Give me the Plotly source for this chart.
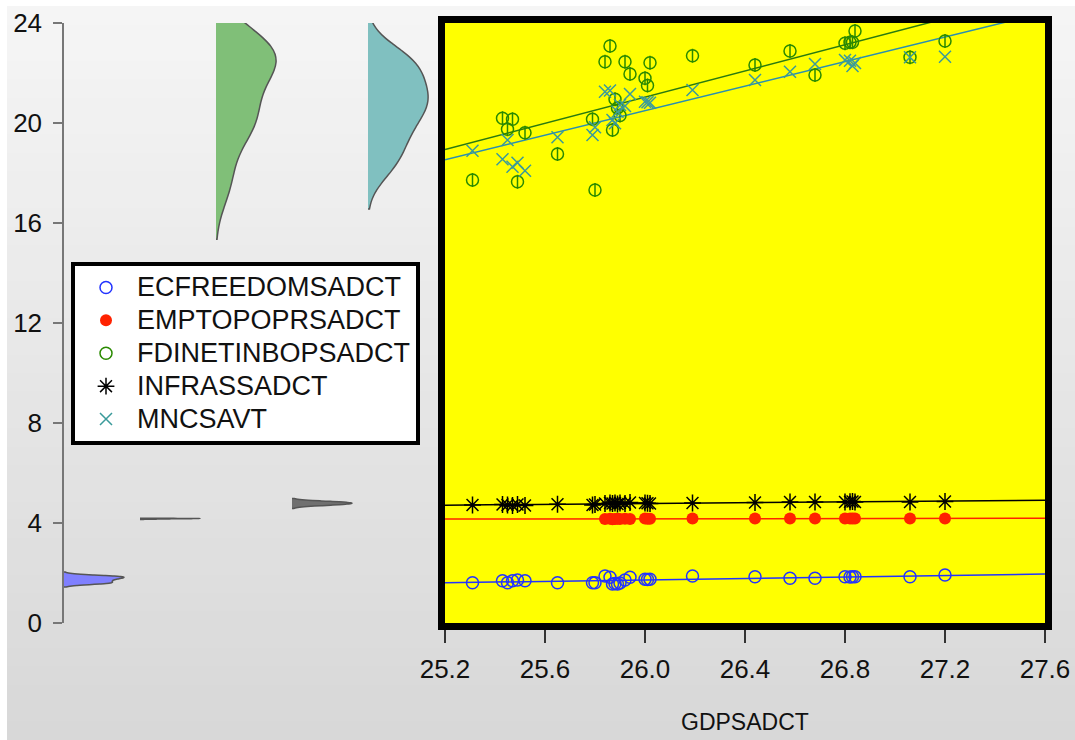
import numpy as np
import plotly.graph_objects as go

W, H = 1075, 740

# ---------------- data ----------------
gdp = [25.31, 25.43, 25.45, 25.47, 25.49, 25.52, 25.65, 25.79, 25.80,
       25.84, 25.86, 25.87, 25.88, 25.89, 25.90, 25.92, 25.94,
       26.00, 26.01, 26.02, 26.19, 26.44, 26.58, 26.68,
       26.80, 26.82, 26.83, 26.84, 27.06, 27.20]
ecfreedom = [1.61, 1.69, 1.61, 1.69, 1.72, 1.69, 1.61, 1.61, 1.61,
             1.88, 1.83, 1.56, 1.58, 1.56, 1.60, 1.72, 1.83,
             1.75, 1.74, 1.75, 1.88, 1.85, 1.79, 1.79,
             1.85, 1.84, 1.85, 1.85, 1.85, 1.92]
emptopop = [None, None, None, None, None, None, None, None, None,
            4.16, 4.17, 4.15, 4.16, 4.17, 4.16, 4.17, 4.16,
            4.18, 4.17, 4.17, 4.18, 4.18, 4.18, 4.18,
            4.18, 4.18, 4.18, 4.18, 4.18, 4.18]
fdinet = [17.72, 20.19, 19.75, 20.15, 17.65, 19.61, 18.76, 20.15, 17.32,
          22.45, 23.08, 19.72, 20.95, 20.60, 20.30, 22.45, 21.96,
          21.79, 21.50, 22.41, 22.69, 22.32, 22.88, 21.92,
          23.19, 23.23, 23.23, 23.68, 22.63, 23.28]
infrass = [4.72, 4.74, 4.72, 4.70, 4.74, 4.70, 4.75, 4.72, 4.74,
           4.78, 4.80, 4.78, 4.80, 4.76, 4.80, 4.78, 4.82,
           4.80, 4.79, 4.78, 4.80, 4.82, 4.84, 4.84,
           4.84, 4.85, 4.86, 4.84, 4.84, 4.86]
mncsavt = [18.89, 18.55, 19.32, 18.25, 18.41, 18.09, 19.43, 19.52, 19.83,
           21.25, 21.30, 20.12, 19.99, 20.45, 20.72, 20.68, 21.16,
           20.85, 20.83, 20.81, 21.32, 21.72, 22.05, 22.36,
           22.52, 22.49, 22.28, 22.40, 22.63, 22.65]

series_names = ["ECFREEDOMSADCT", "EMPTOPOPRSADCT", "FDINETINBOPSADCT",
                "INFRASSADCT", "MNCSAVT"]
series_values = [ecfreedom, emptopop, fdinet, infrass, mncsavt]

x_ticks = [25.2, 25.6, 26.0, 26.4, 26.8, 27.2, 27.6]
x_tick_labels = ["25.2", "25.6", "26.0", "26.4", "26.8", "27.2", "27.6"]
y_ticks = [0, 4, 8, 12, 16, 20, 24]
x_title = "GDPSADCT"

# ---------------- styles ----------------
GREEN = "#2a8a00"
marker_styles = [
    dict(symbol="circle-open", size=12, color="#2233ff", line=dict(width=1.5, color="#2233ff")),
    dict(symbol="circle", size=12, color="#ff2200"),
    dict(symbol="circle-open", size=12, color=GREEN, line=dict(width=1.5, color=GREEN)),
    dict(symbol="asterisk-open", size=14, color="#000000", line=dict(width=1.5, color="#000000")),
    dict(symbol="x-thin-open", size=12, color="#3a9a9a", line=dict(width=1.5, color="#3a9a9a")),
]
line_colors = ["#2233ff", "#ff2200", "#2a7a10", "#000000", "#2a8fb0"]
violin_fill = ["#8080ff", "#ff6060", "#80bf78", "#707070", "#80c0c0"]
violin_bw = [None, None, None, 0.06, None]

FONT = "Liberation Sans, Arial, sans-serif"

fig = go.Figure()

# ---------------- left: half violins ----------------
for i, (name, vals) in enumerate(zip(series_names, series_values)):
    v = [a for a in vals if a is not None]
    kw = {}
    if violin_bw[i] is not None:
        kw["bandwidth"] = violin_bw[i]
    fig.add_trace(go.Violin(
        y=v, x0=i, name=name, side="positive", width=1.58,
        points=False, box_visible=False, meanline_visible=False,
        fillcolor=violin_fill[i], line=dict(color="#555555", width=1.5),
        opacity=1, showlegend=False, xaxis="x", yaxis="y",
        hoverinfo="skip", **kw))

# ---------------- right: scatter + fits ----------------
xs_line = np.array([x_ticks[0], x_ticks[-1]])
for i, (name, vals) in enumerate(zip(series_names, series_values)):
    xx = np.array([g for g, a in zip(gdp, vals) if a is not None])
    yy = np.array([a for a in vals if a is not None])
    coef = np.polyfit(xx, yy, 1)
    fig.add_trace(go.Scatter(
        x=xs_line, y=np.polyval(coef, xs_line), mode="lines",
        line=dict(color=line_colors[i], width=1.5),
        showlegend=False, xaxis="x2", yaxis="y2", hoverinfo="skip"))

LEG_TEXT_PX = 27
for i, (name, vals) in enumerate(zip(series_names, series_values)):
    fig.add_trace(go.Scatter(
        x=gdp, y=vals, mode="markers",
        name=f'<span style="font-size:{LEG_TEXT_PX}px">{name}</span>',
        marker=marker_styles[i], xaxis="x2", yaxis="y2"))
    if i == 2:
        fig.add_trace(go.Scatter(
            x=gdp, y=vals, mode="markers", showlegend=False,
            marker=dict(symbol="line-ns-open", size=10, color=GREEN,
                        line=dict(width=1.5, color=GREEN)),
            xaxis="x2", yaxis="y2", hoverinfo="skip"))

# ---------------- background ----------------
shapes = []
n_bands = 40
top_px, bot_px = 6, H
for k in range(n_bands):
    t = k / (n_bands - 1)
    c = int(round(245 - (245 - 216) * t))
    y0 = top_px + (bot_px - top_px) * k / n_bands
    y1 = top_px + (bot_px - top_px) * (k + 1) / n_bands + 1
    shapes.append(dict(type="rect", xref="paper", yref="paper",
                       x0=7 / W, x1=1.0, y0=1 - y1 / H, y1=1 - y0 / H,
                       fillcolor=f"rgb({c},{c},{c})", line=dict(width=0),
                       layer="below"))
shapes.append(dict(type="rect", xref="x2 domain", yref="y2 domain",
                   x0=0, x1=1, y0=0, y1=1, fillcolor="#ffff00",
                   line=dict(width=0), layer="below"))

ydom = [117 / H, 717 / H]
fig.update_layout(
    width=W, height=H, autosize=False,
    margin=dict(l=0, r=0, t=0, b=0),
    paper_bgcolor="white", plot_bgcolor="rgba(0,0,0,0)",
    font=dict(family=FONT, color="#111111", size=24),
    violinmode="overlay",
    shapes=shapes,
    xaxis=dict(domain=[64 / W, 444 / W], range=[0, 5], visible=False,
               anchor="y", automargin=False, fixedrange=True),
    yaxis=dict(domain=ydom, range=[0, 24], anchor="x", automargin=False,
               tickvals=y_ticks, ticks="outside", ticklen=9, tickwidth=1.5,
               tickcolor="#777777", showline=True, linecolor="#777777",
               linewidth=1.5, showgrid=False, zeroline=False,
               ticklabelstandoff=6, tickfont=dict(size=26, color="#111111")),
    xaxis2=dict(domain=[445 / W, 1045 / W], range=[25.2, 27.6], anchor="y2",
                automargin=False, tickvals=x_ticks, ticktext=x_tick_labels,
                ticks="outside", ticklen=13, tickwidth=1.5, tickcolor="#333333",
                showline=True, mirror=True, linecolor="black", linewidth=7,
                showgrid=False, zeroline=False, ticklabelstandoff=4,
                tickfont=dict(size=26, color="#111111")),
    yaxis2=dict(domain=ydom, range=[0, 24], anchor="x2", automargin=False,
                showticklabels=False, ticks="", showline=True, mirror=True,
                linecolor="black", linewidth=7, showgrid=False, zeroline=False),
    legend=dict(x=71 / W, y=1 - 262 / H, xanchor="left", yanchor="top",
                bgcolor="white", bordercolor="black", borderwidth=4,
                font=dict(size=23, color="#111111"), itemwidth=52,
                tracegroupgap=0),
    annotations=[dict(text=x_title, x=(445 + 1045) / 2 / W, y=1 - 722 / H,
                      xref="paper", yref="paper", showarrow=False,
                      xanchor="center", yanchor="middle",
                      font=dict(size=23, color="#111111"))],
)

fig.write_html("out.html")
